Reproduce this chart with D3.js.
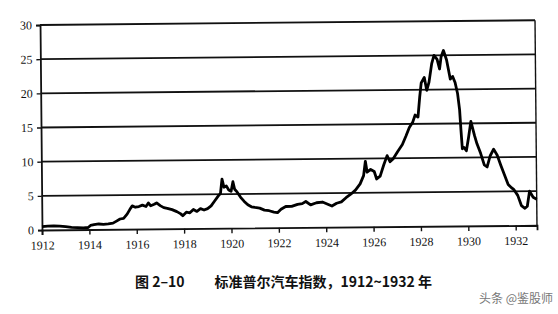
<!DOCTYPE html>
<html>
<head>
<meta charset="utf-8">
<script src="https://cdn.jsdelivr.net/npm/d3@7"></script>
<style>
  body { margin: 0; background: #fff; }
  .axis text { font-family: "Liberation Serif", "Times New Roman", serif; font-size: 12px; fill: #111; }
</style>
</head>
<body>
<svg id="chart" width="558" height="314"></svg>
<script>
// S&P auto index
const years = [
  1912.00, 1912.25, 1912.5, 1912.75, 1913.0, 1913.25, 1913.5, 1913.75, 1913.95,
  1914.05, 1914.2, 1914.4, 1914.6, 1914.8, 1915.0, 1915.15, 1915.3, 1915.45,
  1915.6, 1915.72, 1915.82, 1915.95, 1916.1, 1916.25, 1916.4, 1916.5, 1916.6,
  1916.75, 1916.85, 1917.0, 1917.15, 1917.3, 1917.5, 1917.7, 1917.85, 1917.95,
  1918.1, 1918.25, 1918.4, 1918.55, 1918.7, 1918.85, 1919.0, 1919.15, 1919.3,
  1919.45, 1919.55, 1919.62, 1919.7, 1919.8, 1919.9, 1920.0, 1920.08, 1920.15,
  1920.25, 1920.4, 1920.55, 1920.7, 1920.85, 1921.0, 1921.2, 1921.4, 1921.6,
  1921.8, 1921.95, 1922.1, 1922.3, 1922.55, 1922.8, 1923.0, 1923.15, 1923.35,
  1923.6, 1923.85, 1924.05, 1924.25, 1924.45, 1924.65, 1924.85, 1925.05, 1925.25,
  1925.45, 1925.6, 1925.68, 1925.75, 1925.9, 1926.05, 1926.15, 1926.3, 1926.45,
  1926.6, 1926.72, 1926.85, 1927.05, 1927.25, 1927.4, 1927.55, 1927.7, 1927.8,
  1927.92, 1928.0, 1928.07, 1928.2, 1928.3, 1928.4, 1928.52, 1928.62, 1928.75,
  1928.85, 1928.92, 1929.02, 1929.15, 1929.3, 1929.4, 1929.5, 1929.6, 1929.68,
  1929.73, 1929.78, 1929.85, 1929.95, 1930.05, 1930.15, 1930.3, 1930.4, 1930.55,
  1930.7, 1930.82, 1930.95, 1931.1, 1931.25, 1931.4, 1931.55, 1931.7, 1931.85,
  1931.95, 1932.1, 1932.25, 1932.4, 1932.5, 1932.6, 1932.75, 1932.9
];
const index = [
  0.5, 0.55, 0.6, 0.55, 0.45, 0.35, 0.3, 0.25, 0.3,
  0.6, 0.7, 0.8, 0.75, 0.8, 0.9, 1.2, 1.5, 1.6,
  2.2, 2.9, 3.4, 3.2, 3.3, 3.5, 3.3, 3.8, 3.4,
  3.6, 3.8, 3.4, 3.1, 3.0, 2.8, 2.5, 2.2, 1.9,
  2.4, 2.3, 2.8, 2.5, 2.9, 2.7, 2.9, 3.3, 4.0,
  4.7, 5.1, 7.2, 6.0, 6.2, 5.6, 5.4, 6.8, 5.7,
  5.3, 4.5, 3.9, 3.4, 3.1, 3.0, 2.9, 2.6, 2.5,
  2.3, 2.2, 2.7, 3.1, 3.1, 3.4, 3.5, 3.8, 3.3,
  3.6, 3.7, 3.4, 3.1, 3.5, 3.7, 4.3, 4.8, 5.4,
  6.3, 7.5, 9.6, 8.0, 8.4, 8.1, 7.0, 7.4, 9.0,
  10.4, 9.5, 9.9, 11.0, 12.0, 13.2, 14.5, 15.3, 16.3,
  16.0, 18.9, 21.0, 21.8, 19.9, 21.1, 23.8, 25.0, 24.4,
  23.0, 24.8, 25.7, 24.3, 21.5, 21.9, 21.0, 19.4, 17.0,
  14.0, 11.3, 11.5, 11.0, 13.0, 15.3, 13.2, 12.0, 10.6,
  8.9, 8.6, 10.2, 11.2, 10.3, 8.8, 7.4, 6.0, 5.5,
  5.2, 4.4, 2.9, 2.5, 2.8, 5.0, 4.1, 3.8
];
const yTicks = [0, 5, 10, 15, 20, 25, 30];
const xTicks = [1912, 1914, 1916, 1918, 1920, 1922, 1924, 1926, 1928, 1930, 1932];
const figLabel = "图 2–10";
const titleText = "标准普尔汽车指数，1912~1932 年";
const credit = "头条 @鉴股师";

const svg = d3.select("#chart");
const plotLeft = 42, plotRight = 537, plotTop = 25, plotBottom = 230;

const x = d3.scaleLinear().domain([1912, 1932.9]).range([plotLeft, plotRight]);
const y = d3.scaleLinear().domain([0, 30]).range([plotBottom, plotTop]);

// the scan is tilted a little, so tilt the plot the same way
const g = svg.append("g")
  .attr("transform", `rotate(-0.55, ${plotLeft}, ${plotBottom})`);

// horizontal rules
g.append("g")
  .selectAll("line")
  .data(yTicks.filter(d => d > 0))
  .join("line")
  .attr("x1", plotLeft)
  .attr("x2", plotRight)
  .attr("y1", d => y(d))
  .attr("y2", d => y(d))
  .attr("stroke", "#111")
  .attr("stroke-width", 1.8);

// right border
g.append("line")
  .attr("x1", plotRight).attr("x2", plotRight)
  .attr("y1", y(30)).attr("y2", y(0))
  .attr("stroke", "#111")
  .attr("stroke-width", 1.4);

const yAxis = g.append("g")
  .attr("class", "axis")
  .attr("transform", `translate(${plotLeft},0)`)
  .call(d3.axisLeft(y).tickValues(yTicks).tickSize(4).tickPadding(4));

const xAxis = g.append("g")
  .attr("class", "axis")
  .attr("transform", `translate(0,${plotBottom})`)
  .call(d3.axisBottom(x).tickValues(xTicks).tickSize(5).tickPadding(6).tickFormat(d3.format("d")));

[yAxis, xAxis].forEach(a => {
  a.attr("font-family", null).attr("font-size", null);
  a.select(".domain").attr("stroke", "#111").attr("stroke-width", 1.8);
  a.selectAll(".tick line").attr("stroke", "#111").attr("stroke-width", 1.4);
});

const line = d3.line()
  .x((d, i) => x(years[i]))
  .y(d => y(d));

g.append("path")
  .datum(index)
  .attr("d", line)
  .attr("fill", "none")
  .attr("stroke", "#000")
  .attr("stroke-width", 2.8)
  .attr("stroke-linejoin", "round");

const title = svg.append("g")
  .style("font-family", "'Noto Sans CJK SC', sans-serif")
  .style("font-size", "14px")
  .style("font-weight", "700")
  .attr("fill", "#111");

title.append("text")
  .attr("x", 135)
  .attr("y", 287)
  .text(figLabel);

title.append("text")
  .attr("x", 432)
  .attr("y", 287)
  .attr("text-anchor", "end")
  .text(titleText);

svg.append("text")
  .attr("x", 553)
  .attr("y", 303)
  .attr("text-anchor", "end")
  .attr("fill", "#777")
  .style("font-family", "'Noto Sans CJK SC', sans-serif")
  .style("font-size", "12px")
  .text(credit);
</script>
</body>
</html>
